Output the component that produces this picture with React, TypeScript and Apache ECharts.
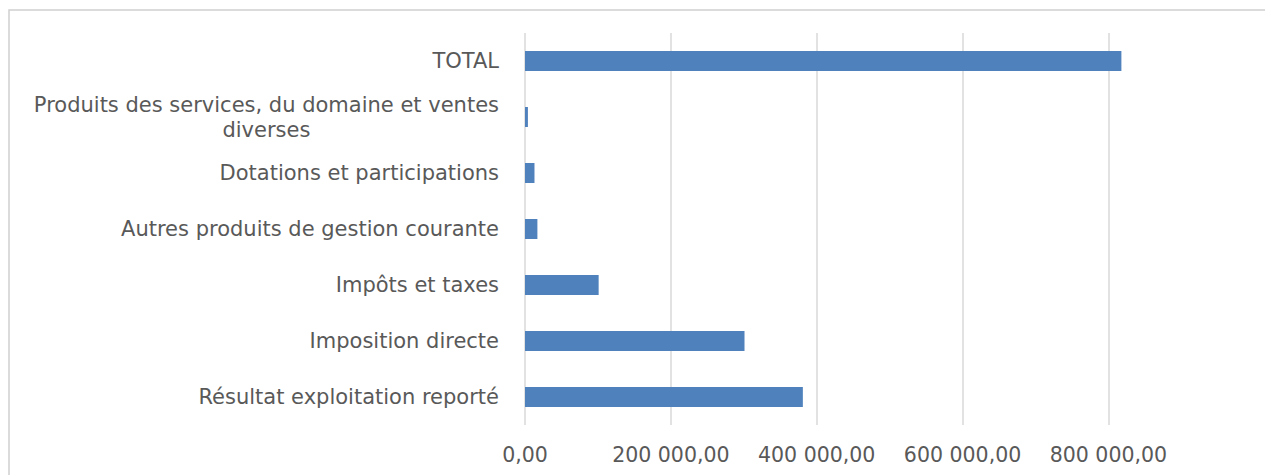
import React, { useEffect, useRef } from "react";
import * as echarts from "echarts";

const categories = [
  "Résultat exploitation reporté",
  "Imposition directe",
  "Impôts et taxes",
  "Autres produits de gestion courante",
  "Dotations et participations",
  "Produits des services, du domaine et ventes\ndiverses",
  "TOTAL",
];
const values = [381000, 301000, 101000, 17000, 13000, 4000, 817800];

function fmt(v: number): string {
  const s = Math.round(v).toString().replace(/\B(?=(\d{3})+(?!\d))/g, " ");
  return s + ",00";
}

export default function App() {
  const ref = useRef<HTMLDivElement>(null);
  useEffect(() => {
    if (!ref.current) return;
    const chart = echarts.init(ref.current, undefined, { renderer: "svg" });
    const font = "DejaVu Sans";
    chart.setOption({
      animation: false,
      graphic: [
        {
          type: "rect",
          shape: { x: 9, y: 10, width: 1400, height: 600 },
          style: { fill: "none", stroke: "#cfcfcf", lineWidth: 1.5 },
          silent: true,
        },
      ],
      grid: { left: 525, right: 142, top: 33, bottom: 50, containLabel: false },
      xAxis: {
        type: "value",
        min: 0,
        max: 820000,
        interval: 200000,
        axisLine: { show: false },
        axisTick: { show: false },
        splitLine: {
          show: true,
          showMaxLine: false,
          lineStyle: { color: "#d9d9d9", width: 1.5 },
        },
        axisLabel: {
          margin: 19,
          color: "#595959",
          fontFamily: font,
          fontSize: 20.5,
          showMaxLabel: false,
          formatter: (v: number) => (v % 200000 === 0 ? fmt(v) : ""),
        },
      },
      yAxis: {
        type: "category",
        data: categories,
        axisLine: { show: false },
        axisTick: { show: false },
        axisLabel: {
          margin: 26,
          color: "#595959",
          fontFamily: font,
          fontSize: 21,
          lineHeight: 25,
          formatter: (v: string) =>
            v
              .split("\n")
              .map((l) => "{c|" + l + "}")
              .join("\n"),
          rich: {
            c: {
              align: "center",
              color: "#595959",
              fontFamily: font,
              fontSize: 21,
              lineHeight: 25,
            },
          },
        },
      },
      series: [
        {
          type: "bar",
          data: values,
          barWidth: 20,
          itemStyle: { color: "#4f81bd" },
        },
      ],
    });
    return () => chart.dispose();
  }, []);
  return (
    <div
      ref={ref}
      style={{ position: "fixed", left: 0, top: 0, width: 1265, height: 475, background: "#fff" }}
    />
  );
}
